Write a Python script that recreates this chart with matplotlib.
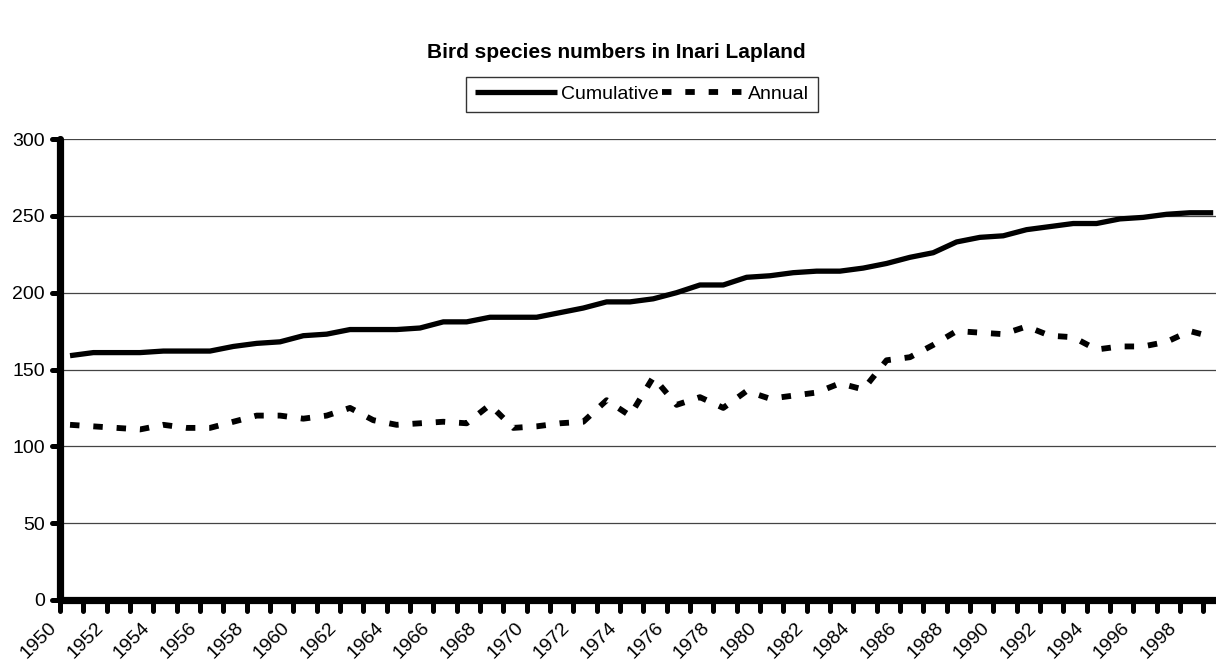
import matplotlib
matplotlib.use("Agg")
import matplotlib.pyplot as plt
import matplotlib.transforms as mtransforms
from matplotlib.markers import MarkerStyle
from matplotlib.lines import Line2D

plt.rcParams['font.family'] = ['Liberation Sans', 'DejaVu Sans']
plt.rcParams['lines.scale_dashes'] = False

title = "Bird species numbers in Inari Lapland"
years = list(range(1950, 2000))
cumulative = [159, 161, 161, 161, 162, 162, 162, 165, 167, 168,
              172, 173, 176, 176, 176, 177, 181, 181, 184, 184,
              184, 187, 190, 194, 194, 196, 200, 205, 205, 210,
              211, 213, 214, 214, 216, 219, 223, 226, 233, 236,
              237, 241, 243, 245, 245, 248, 249, 251, 252, 252]
annual = [114, 113, 112, 111, 114, 112, 112, 116, 120, 120,
          118, 120, 125, 117, 114, 115, 116, 115, 127, 112,
          113, 115, 116, 130, 120, 145, 127, 132, 125, 136,
          131, 133, 135, 141, 137, 156, 158, 166, 175, 174,
          173, 178, 172, 171, 163, 165, 165, 168, 175, 171]
y_ticks = [0, 50, 100, 150, 200, 250, 300]

W, H = 1216, 660
fig = plt.figure(figsize=(W / 100, H / 100), dpi=100)
ax = fig.add_axes([60 / W, (H - 600) / H, (W - 60) / W, (600 - 139) / H])

x = list(range(len(years)))
ax.plot(x, cumulative, color='black', lw=3.8, solid_capstyle='butt',
        solid_joinstyle='round', label='Cumulative')
ax.plot(x, annual, color='black', lw=4.2, linestyle=(0, (6.8, 10.0)),
        dash_capstyle='butt', dash_joinstyle='round', label='Annual')

ax.set_ylim(0, 300)
ax.set_xlim(-0.43, 49.12)
ax.set_yticks(y_ticks)
ax.set_yticklabels([str(v) for v in y_ticks], fontsize=14)
tick_pos = [i - 0.43 for i in x]
ax.set_xticks(tick_pos)
ax.set_xticklabels([str(y) if (y - 1950) % 2 == 0 else '' for y in years],
                   rotation=45, ha='right', va='top', fontsize=14)
offset = mtransforms.ScaledTranslation(4 / 100, -3 / 100, fig.dpi_scale_trans)
for lbl in ax.get_xticklabels():
    lbl.set_transform(lbl.get_transform() + offset)

ax.grid(axis='y', color='#444444', lw=0.9)
ax.set_axisbelow(True)
for s in ['top', 'right']:
    ax.spines[s].set_visible(False)
for s in ['left', 'bottom']:
    ax.spines[s].set_linewidth(5.2)
    ax.spines[s].set_capstyle('round')
ax.tick_params(axis='x', direction='out', length=8, width=3.6, pad=6)
ax.tick_params(axis='y', direction='out', length=6, width=3.6, pad=5)
for ln in ax.xaxis.get_ticklines() + ax.yaxis.get_ticklines():
    m = ln.get_marker()
    try:
        ln.set_marker(MarkerStyle(m, capstyle='round'))
    except Exception:
        pass

fig.text(616 / W, 1 - 53 / H, title, ha='center', va='center',
         fontsize=15, fontweight='bold')

handles = [Line2D([], [], color='black', lw=3.8, solid_capstyle='butt'),
           Line2D([], [], color='black', lw=4.2, linestyle=(0, (6.8, 10.0)),
                  dash_capstyle='butt')]
leg = fig.legend(handles, ['Cumulative', 'Annual'], loc='center',
                 bbox_to_anchor=(642 / W, 1 - 94.5 / H), ncol=2,
                 fontsize=14, frameon=True, fancybox=False,
                 handlelength=4.2, handletextpad=0.2, columnspacing=0.2,
                 borderpad=0.45, borderaxespad=0)
leg.get_frame().set_edgecolor('black')
leg.get_frame().set_linewidth(1.0)

fig.savefig('out.png', dpi=100)
